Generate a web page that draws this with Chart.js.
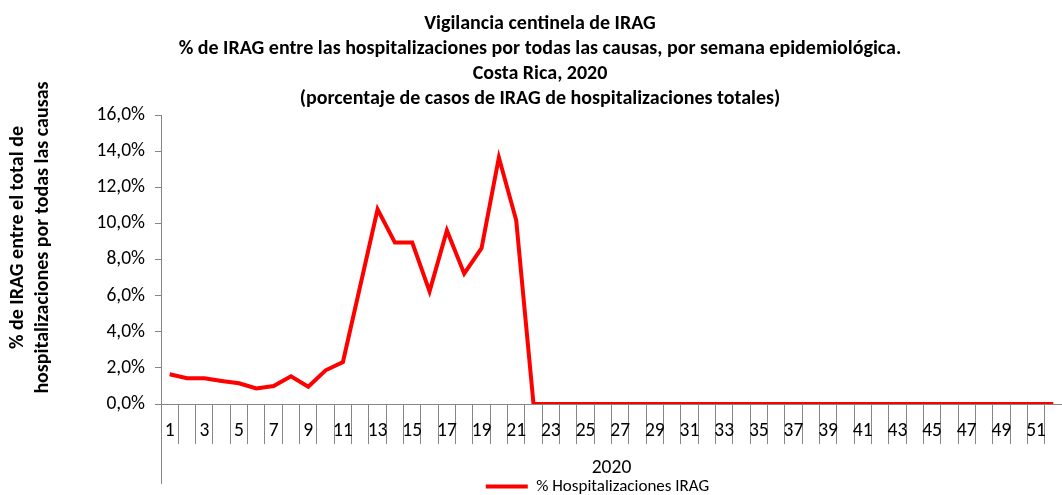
<!DOCTYPE html>
<html>
<head>
<meta charset="utf-8">
<script src="https://cdn.jsdelivr.net/npm/chart.js@4.4.0/dist/chart.umd.min.js"></script>
<style>
  html, body { margin: 0; padding: 0; background: #fff; }
  #wrap { width: 1062px; height: 495px; }
</style>
</head>
<body>
<div id="wrap"><canvas id="irag"></canvas></div>
<script>
// Semanas epidemiológicas 1..52
const weeks = Array.from({ length: 52 }, (_, i) => String(i + 1));

// % IRAG entre hospitalizaciones (semana 1..52)
const iragPct = [
  1.65, 1.43, 1.43, 1.28, 1.15, 0.87, 1.0, 1.54, 0.96, 1.87,
  2.33, 6.55, 10.78, 8.94, 8.94, 6.24, 9.61, 7.22, 8.63, 13.65,
  10.17, 0, 0, 0, 0, 0, 0, 0, 0, 0,
  0, 0, 0, 0, 0, 0, 0, 0, 0, 0,
  0, 0, 0, 0, 0, 0, 0, 0, 0, 0,
  0, 0
];

const yTicks = [0, 2, 4, 6, 8, 10, 12, 14, 16];

const titleLines = [
  'Vigilancia centinela de IRAG',
  '% de IRAG entre las hospitalizaciones por todas las causas, por semana epidemiológica.',
  'Costa Rica, 2020',
  '(porcentaje de casos de IRAG de hospitalizaciones totales)'
];
const yTitle = ['% de IRAG entre el total de', 'hospitalizaciones por todas las causas'];

const FONT = 'Carlito, Calibri, Lato, sans-serif';
const axisGray = '#868686';

// prolonga la línea vertical del eje (estilo de eje multinivel de Excel)
// y dibuja el título del eje Y en dos líneas
const axisExtras = {
  id: 'axisExtras',
  afterLayout(chart) {
    // la leyenda del original queda algo a la izquierda del centro del área
    chart.legend.left -= 14;
    chart.legend.right -= 14;
  },
  afterDraw(chart) {
    const { ctx, chartArea } = chart;
    ctx.save();
    ctx.strokeStyle = axisGray;
    ctx.lineWidth = 1;
    ctx.beginPath();
    ctx.moveTo(chartArea.left + 0.5, chartArea.bottom);
    ctx.lineTo(chartArea.left + 0.5, chartArea.bottom + 80);
    ctx.stroke();

    const cy = (chartArea.top + chartArea.bottom) / 2 - 22;
    ctx.translate(0, cy);
    ctx.rotate(-Math.PI / 2);
    ctx.fillStyle = '#000';
    ctx.font = 'bold 20px ' + FONT;
    ctx.textAlign = 'center';
    ctx.textBaseline = 'middle';
    ctx.fillText(yTitle[0], 0, 18);
    ctx.fillText(yTitle[1], 0, 43);
    ctx.restore();
  }
};

const ctx = document.getElementById('irag').getContext('2d');
new Chart(ctx, {
  type: 'line',
  data: {
    labels: weeks,
    datasets: [{
      label: '% Hospitalizaciones IRAG',
      data: iragPct,
      borderColor: '#ff0000',
      backgroundColor: '#ff0000',
      borderWidth: 4,
      pointRadius: 0,
      tension: 0,
      fill: false
    }]
  },
  options: {
    responsive: true,
    maintainAspectRatio: false,
    animation: false,
    layout: { padding: { left: 18, right: 0, top: 0, bottom: 0 } },
    plugins: {
      title: {
        display: true,
        text: titleLines,
        color: '#000',
        font: { family: FONT, size: 20, weight: 'bold', lineHeight: 1.25 },
        padding: { top: 11, bottom: 4 }
      },
      legend: {
        position: 'bottom',
        fullSize: false,
        maxHeight: 17,
        labels: {
          usePointStyle: true,
          pointStyle: 'line',
          pointStyleWidth: 42,
          color: '#000',
          font: { family: FONT, size: 17 },
          padding: 0
        }
      },
      tooltip: { enabled: false }
    },
    scales: {
      x: {
        offset: true,
        grid: {
          offset: true,
          drawOnChartArea: false,
          tickLength: 40,
          color: axisGray
        },
        border: { color: axisGray },
        ticks: {
          autoSkip: false,
          maxRotation: 0,
          color: '#000',
          font: { family: FONT, size: 19.5 },
          padding: -25,
          callback: (v, i) => (i % 2 === 0 ? weeks[i] : '')
        },
        title: {
          display: true,
          text: '2020',
          color: '#000',
          font: { family: FONT, size: 19.5, lineHeight: 1.0 },
          padding: { top: 41, bottom: 0 }
        }
      },
      y: {
        min: 0,
        max: 16,
        afterBuildTicks: (axis) => { axis.ticks = yTicks.map(v => ({ value: v })); },
        afterFit: (axis) => { axis.width = 143; },
        grid: {
          drawOnChartArea: false,
          tickLength: 6,
          color: axisGray
        },
        border: { color: axisGray },
        ticks: {
          color: '#000',
          font: { family: FONT, size: 19.5 },
          padding: 10,
          callback: (v) => v.toFixed(1).replace('.', ',') + '%'
        }
      }
    }
  },
  plugins: [axisExtras]
});
</script>
</body>
</html>
